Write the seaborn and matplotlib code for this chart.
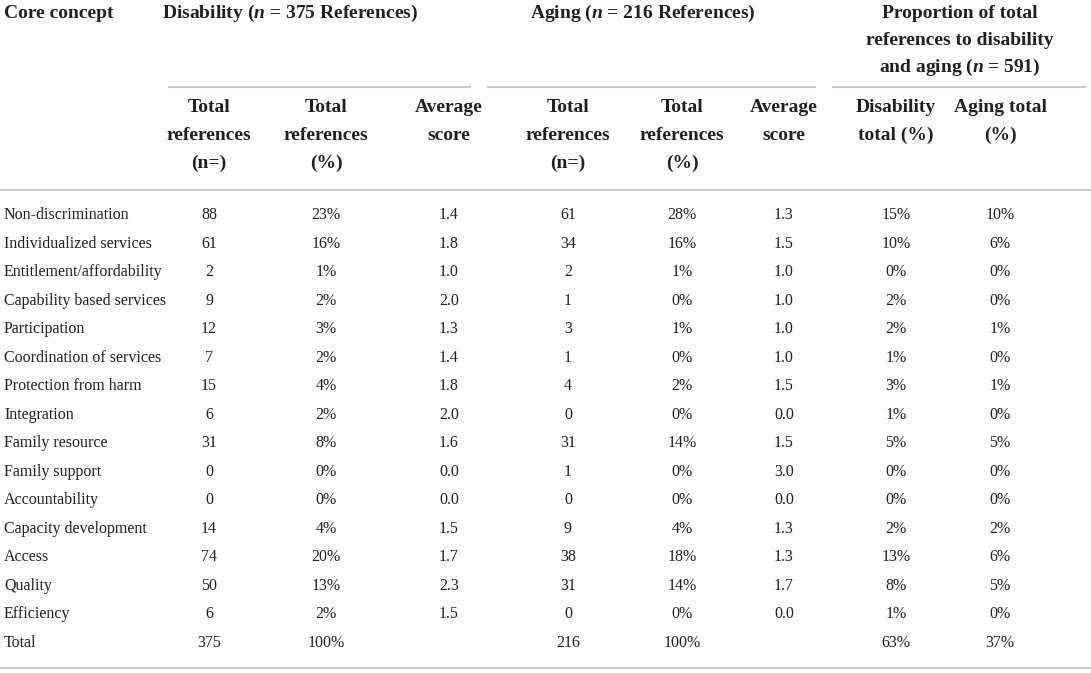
"""
Core concept references table: disability vs aging
"""

import matplotlib.pyplot as plt
import seaborn as sns

# Data
concepts = [
    "Non-discrimination", "Individualized services", "Entitlement/affordability",
    "Capability based services", "Participation", "Coordination of services",
    "Protection from harm", "Integration", "Family resource", "Family support",
    "Accountability", "Capacity development", "Access", "Quality", "Efficiency",
]
dis_n = [88, 61, 2, 9, 12, 7, 15, 6, 31, 0, 0, 14, 74, 50, 6]
dis_pct = [23, 16, 1, 2, 3, 2, 4, 2, 8, 0, 0, 4, 20, 13, 2]
dis_avg = [1.4, 1.8, 1.0, 2.0, 1.3, 1.4, 1.8, 2.0, 1.6, 0.0, 0.0, 1.5, 1.7, 2.3, 1.5]
age_n = [61, 34, 2, 1, 3, 1, 4, 0, 31, 1, 0, 9, 38, 31, 0]
age_pct = [28, 16, 1, 0, 1, 0, 2, 0, 14, 0, 0, 4, 18, 14, 0]
age_avg = [1.3, 1.5, 1.0, 1.0, 1.0, 1.0, 1.5, 0.0, 1.5, 3.0, 0.0, 1.3, 1.3, 1.7, 0.0]
dis_share = [15, 10, 0, 2, 2, 1, 3, 1, 5, 0, 0, 2, 13, 8, 1]
age_share = [10, 6, 0, 0, 1, 0, 1, 0, 5, 0, 0, 2, 6, 5, 0]
total_row = ["375", "100%", "", "216", "100%", "", "63%", "37%"]

group_titles = [
    ["Disability ($n$ = 375 References)"],
    ["Aging ($n$ = 216 References)"],
    ["Proportion of total", "references to disability", "and aging ($n$ = 591)"],
]
sub_headers = [
    ["Total", "references", "(n=)"], ["Total", "references", "(%)"],
    ["Average", "score"],
    ["Total", "references", "(n=)"], ["Total", "references", "(%)"],
    ["Average", "score"],
    ["Disability", "total (%)"], ["Aging total", "(%)"],
]

# Style
sns.set_theme(style="white")
plt.rcParams["font.family"] = ["Liberation Serif", "DejaVu Serif"]
plt.rcParams["mathtext.fontset"] = "custom"
plt.rcParams["mathtext.it"] = "Liberation Serif:italic:bold"
plt.rcParams["mathtext.rm"] = "Liberation Serif:bold"

W, H = 1091, 673
fig = plt.figure(figsize=(W / 100, H / 100), dpi=100)
ax = fig.add_axes([0, 0, 1, 1])
ax.set_xlim(0, W)
ax.set_ylim(H, 0)
ax.set_axis_off()

txt = "#231f20"
rule = "#c9c9c9"
hsize = 14
bsize = 11.5

col_x = [209, 326, 449, 568, 682, 784, 896, 1000]
group_x = [290, 643, 960]
group_span = [(168, 471), (487, 816), (832, 1086)]


def head(x, y, s, ha="center"):
    # baseline sits ~5px below the visual centre of a line
    ax.text(x, y + 5, s, fontsize=hsize, fontweight="bold", color=txt,
            ha=ha, va="baseline")


# Header
head(4, 13, "Core concept", ha="left")
for gx, lines in zip(group_x, group_titles):
    for k, s in enumerate(lines):
        head(gx, 13 + k * 27, s)
for (x0, x1) in group_span:
    ax.plot([x0, x1], [86.5, 86.5], color=rule, lw=1.5, solid_capstyle="butt")
for cx, lines in zip(col_x, sub_headers):
    for k, s in enumerate(lines):
        head(cx, 107 + k * 28, s)
ax.plot([0, W], [190, 190], color=rule, lw=1.5)

# Body rows
row0, step = 214.5, 28.53
for i, name in enumerate(concepts):
    y = row0 + i * step
    vals = [
        f"{dis_n[i]}", f"{dis_pct[i]}%", f"{dis_avg[i]:.1f}",
        f"{age_n[i]}", f"{age_pct[i]}%", f"{age_avg[i]:.1f}",
        f"{dis_share[i]}%", f"{age_share[i]}%",
    ]
    ax.text(4, y + 4.5, name, fontsize=bsize, color=txt, ha="left", va="baseline")
    for cx, v in zip(col_x, vals):
        ax.text(cx, y + 4.5, v, fontsize=bsize, color=txt, ha="center", va="baseline")

y = row0 + len(concepts) * step
ax.text(4, y + 4.5, "Total", fontsize=bsize, color=txt, ha="left", va="baseline")
for cx, v in zip(col_x, total_row):
    ax.text(cx, y + 4.5, v, fontsize=bsize, color=txt, ha="center", va="baseline")

ax.plot([0, W], [668, 668], color=rule, lw=1.5)

plt.savefig("out.png", dpi=100)
